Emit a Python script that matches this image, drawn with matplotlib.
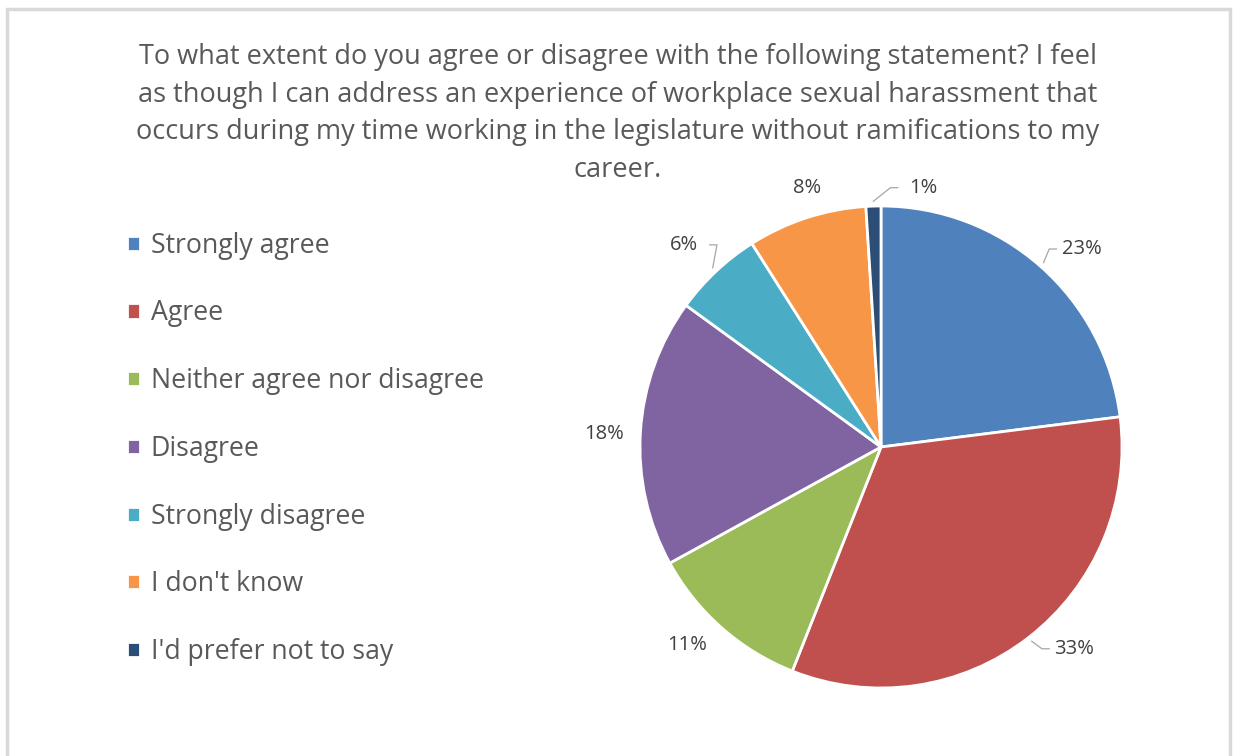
import matplotlib
matplotlib.use('Agg')
import matplotlib.pyplot as plt
import numpy as np
from matplotlib.patches import Rectangle

# Survey responses (percent of respondents)
categories = ['Strongly agree', 'Agree', 'Neither agree nor disagree', 'Disagree',
              'Strongly disagree', "I don't know", "I'd prefer not to say"]
shares = [23, 33, 11, 18, 6, 8, 1]
pct_labels = ['23%', '33%', '11%', '18%', '6%', '8%', '1%']
colors = ['#4F81BD', '#C0504D', '#9BBB59', '#8064A2', '#4BACC6', '#F79646', '#2C4D75']

title_lines = ['To what extent do you agree or disagree with the following statement? I feel',
               'as though I can address an experience of workplace sexual harassment that',
               'occurs during my time working in the legislature without ramifications to my',
               'career.']

TXT = '#595959'
FONT = ['Open Sans', 'DejaVu Sans']
W, H = 1233, 756

fig = plt.figure(figsize=(W / 100, H / 100), dpi=100)
fig.patch.set_facecolor('white')

# light grey frame around the chart area
fig.patches.append(Rectangle((7 / W, -0.05), (1230 - 7) / W, 1.05 - 9 / H,
                             transform=fig.transFigure, fill=False,
                             edgecolor='#D9D9D9', linewidth=2.5))

# title, one text per line so the short last line stays clear of the labels
for i, line in enumerate(title_lines):
    fig.text(618 / W, 1 - (57 + 37.7 * i) / H, line, ha='center', va='center',
             color=TXT, fontsize=19.5, family=FONT)

# pie axes: centre at (881, 447) px, radius 241 px
half = 300
ax = fig.add_axes([(881 - half) / W, (H - 447 - half) / H, 2 * half / W, 2 * half / H])
lim = half / 241
ax.axis('off')

wedges, _ = ax.pie(shares, colors=colors, startangle=90, counterclock=False, radius=1,
                   wedgeprops=dict(edgecolor='white', linewidth=2))
ax.set_xlim(-lim, lim)
ax.set_ylim(-lim, lim)

# label placement: (radial distance, angle nudge in degrees, leader line?)
label_pos = [(1.17, -4, True), (1.16, 6, True), (1.15, -3, False), (1.15, 1, False),
             (1.17, 1, True), (1.12, -2, False), (1.09, -11, True)]

for w, lab, (dist, nudge, leader) in zip(wedges, pct_labels, label_pos):
    mid = np.deg2rad((w.theta1 + w.theta2) / 2)
    ang = mid + np.deg2rad(nudge)
    tx, ty = dist * np.cos(ang), dist * np.sin(ang)
    ax.text(tx, ty, lab, ha='center', va='center', color='#404040', fontsize=14.5,
            family=FONT)
    if leader:
        ex, ey = np.cos(mid), np.sin(mid)
        side = 1 if tx > 0 else -1
        hx = tx - side * 0.105
        ax.plot([hx, hx - side * 0.03, ex + np.cos(mid) * 0.02],
                [ty, ty, ey + np.sin(mid) * 0.02],
                color='#A6A6A6', linewidth=0.9)

leg = fig.legend(wedges, categories, loc='upper left', bbox_to_anchor=(116 / W, 1 - 221 / H),
                 frameon=False, handlelength=0.5, handleheight=0.5,
                 handletextpad=0.4, labelspacing=1.49, borderaxespad=0,
                 prop=dict(family=FONT, size=19.2))
for t in leg.get_texts():
    t.set_color(TXT)

fig.savefig('out.png', dpi=100, facecolor='white')
